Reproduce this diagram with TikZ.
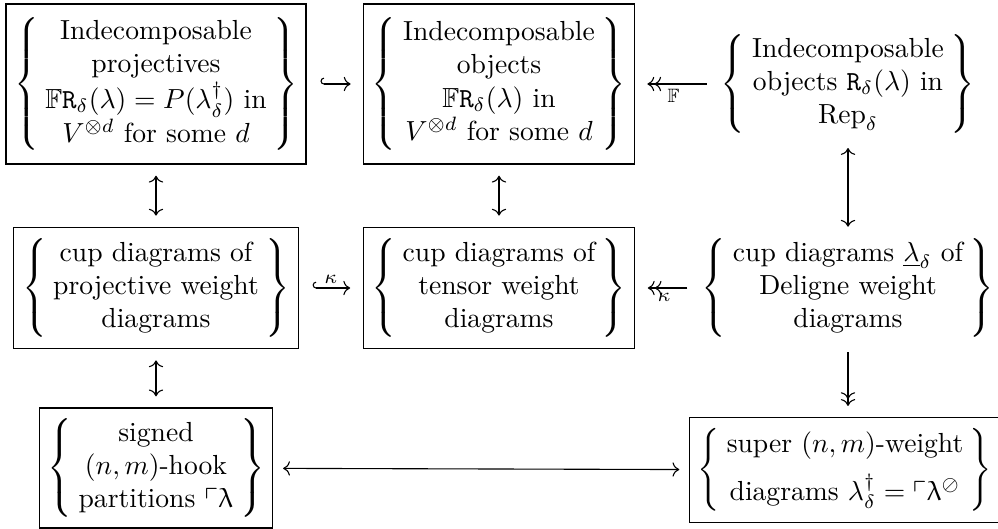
\documentclass[tikz,border=0pt]{standalone}
\usepackage{amsmath,amssymb}
\usepackage{upgreek}
\usetikzlibrary{arrows.meta}
\newcommand{\bset}[1]{$\left\{\begin{array}{@{\hspace{2.4pt}}c@{\hspace{2.4pt}}}#1\end{array}\right\}$}
\tikzset{
  box/.style={draw, line width=0.45pt, inner sep=3pt},
  plain/.style={inner sep=3pt},
  arr/.style={line width=0.4pt},
  bidir/.style={arr, {Computer Modern Rightarrow}-{Computer Modern Rightarrow}},
  hookto/.style={arr, {Hooks[right]}-{Computer Modern Rightarrow}},
  twohead/.style={arr, -{Computer Modern Rightarrow[]Computer Modern Rightarrow[]}},
  lab/.style={font=\scriptsize, inner sep=1.5pt}
}
\begin{document}
\begin{tikzpicture}[x=0.36232pt, y=-0.36232pt]
\useasboundingbox (0,0) rectangle (998,528);
% row 1
\node[box, minimum height=58pt] (A) at (156,84) {\bset{\text{Indecomposable}\\ \text{projectives}\\ \mathbb{F}\mathtt{R}_\delta(\lambda)=P(\lambda^\dagger_\delta)\text{ in}\\ V^{\otimes d}\text{ for some }d}};
\node[box, minimum height=58pt] (B) at (499,84) {\bset{\text{Indecomposable}\\ \text{objects}\\ \mathbb{F}\mathtt{R}_\delta(\lambda)\text{ in}\\ V^{\otimes d}\text{ for some }d}};
\node[plain] (C) at (848,84) {\bset{\text{Indecomposable}\\ \text{objects }\mathtt{R}_\delta(\lambda)\text{ in}\\ \mathrm{Rep}_\delta}};
% row 2
\node[box, minimum height=44pt] (D) at (156,288) {\bset{\text{cup diagrams of}\\ \text{projective weight}\\ \text{diagrams}}};
\node[box, minimum height=44pt] (E) at (499,288) {\bset{\text{cup diagrams of}\\ \text{tensor weight}\\ \text{diagrams}}};
\node[plain] (F) at (848,288) {\bset{\text{cup diagrams }\underline{\lambda}_\delta\text{ of}\\ \text{Deligne weight}\\ \text{diagrams}}};
% row 3
\node[box, minimum height=43.5pt] (G) at (156,468) {\bset{\text{signed}\\ (n,m)\text{-hook}\\ \text{partitions }\ulcorner\uplambda}};
\node[box, minimum height=38pt] (H) at (845,470) {\bset{\text{super }(n,m)\text{-weight}\\[4pt] \text{diagrams }\lambda^\dagger_\delta=\ulcorner\uplambda^{\oslash}}};
% horizontal arrows
\draw[hookto, shorten <=5pt, shorten >=4.5pt] (A) -- (B);
\draw[twohead, shorten <=2pt, shorten >=4.5pt] (C) -- node[lab, below]{$\mathbb{F}$} (B);
\draw[hookto, shorten <=5pt, shorten >=4.5pt] (D) -- node[lab, above]{$\kappa$} (E);
\draw[twohead, shorten <=2pt, shorten >=4.5pt] (F) -- node[lab, below]{$\kappa$} (E);
\draw[bidir, shorten <=3.5pt, shorten >=3.5pt] (G) -- (H);
% vertical arrows
\draw[bidir, shorten <=4pt, shorten >=4pt] (A) -- (D);
\draw[bidir, shorten <=4pt, shorten >=4pt] (B) -- (E);
\draw[bidir, shorten <=2pt, shorten >=1pt] (C) -- (F);
\draw[bidir, shorten <=4pt, shorten >=4pt] (D) -- (G);
\draw[twohead, shorten <=2pt, shorten >=4pt] (F) -- (F |- H.north);
\end{tikzpicture}
\end{document}
